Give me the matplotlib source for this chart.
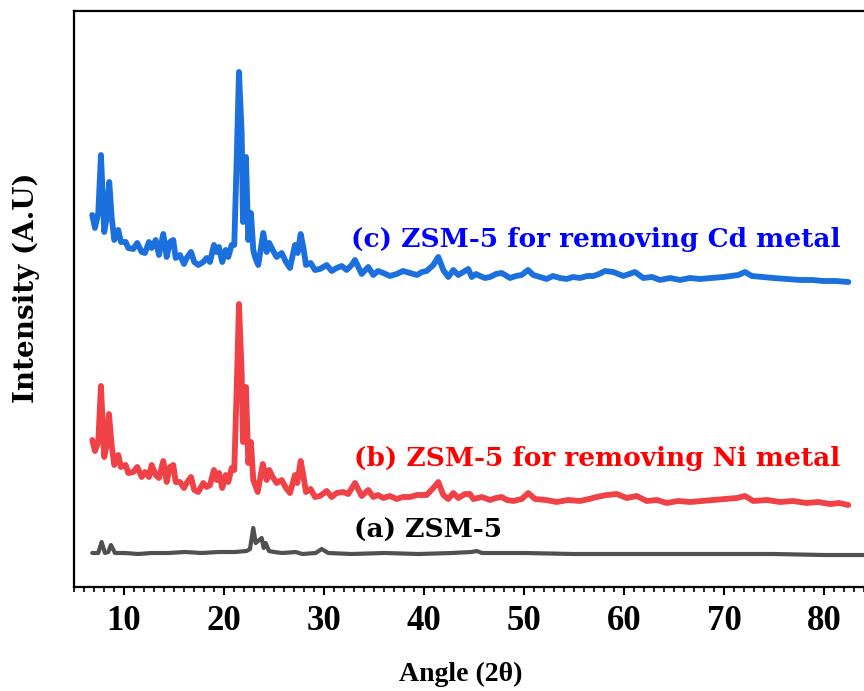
import matplotlib
matplotlib.use("Agg")
import matplotlib.pyplot as plt
from matplotlib.ticker import MultipleLocator

# XRD patterns, 2theta (deg) vs intensity (a.u., stacked)
two_theta_c = [6.83, 7.1, 7.43, 7.7, 8.03, 8.23, 8.53, 8.77, 9.03, 9.43, 9.7, 10.17, 10.43, 10.93,
               11.33, 11.77, 12.1, 12.5, 12.77, 13.17, 13.5, 13.93, 14.27, 14.6, 14.93, 15.17, 15.6,
               16.0, 16.27, 16.7, 17.03, 17.43, 17.93, 18.27, 18.6, 19.0, 19.27, 19.5, 19.83, 20.17,
               20.43, 20.77, 21.03, 21.27, 21.5, 21.77, 21.9, 22.2, 22.43, 22.7, 22.93, 23.1, 23.43,
               23.93, 24.27, 24.53, 24.87, 25.27, 25.77, 26.2, 26.6, 27.1, 27.37, 27.67, 27.93, 28.2,
               28.67, 29.1, 29.6, 30.27, 30.77, 31.27, 31.77, 32.27, 32.77, 33.1, 33.77, 34.43, 34.93,
               35.4, 35.93, 36.6, 37.27, 37.9, 38.6, 39.3, 39.8, 40.27, 40.93, 41.43, 41.93, 42.43,
               42.93, 43.43, 43.93, 44.43, 44.77, 45.2, 45.6, 46.1, 46.6, 47.2, 47.77, 48.6, 49.2,
               49.77, 50.4, 50.93, 51.6, 52.27, 52.9, 53.6, 54.27, 54.9, 55.6, 56.3, 56.93, 57.5,
               58.1, 58.93, 59.93, 60.5, 61.1, 61.93, 62.8, 63.6, 64.6, 65.6, 66.6, 67.6, 68.8,
               69.93, 70.7, 71.43, 72.1, 72.77, 73.8, 74.93, 76.2, 77.6, 78.8, 79.93, 81.2, 82.43]
int_c = [372, 359, 374, 432, 355, 367, 405, 370, 347, 357, 345, 345, 339, 338,
         344, 335, 334, 345, 339, 347, 332, 353, 330, 345, 347, 329, 332,
         323, 329, 335, 325, 322, 325, 329, 325, 342, 335, 340, 325, 337,
         330, 342, 342, 427, 515, 454, 365, 430, 347, 374, 337, 330, 322,
         354, 335, 344, 337, 330, 334, 325, 319, 342, 334, 353, 340, 322,
         324, 317, 318, 322, 316, 319, 321, 317, 322, 327, 313, 320, 312,
         316, 314, 311, 313, 316, 314, 312, 315, 316, 322, 330, 317, 310,
         317, 312, 315, 318, 310, 313, 311, 309, 310, 313, 314, 309, 311,
         312, 317, 312, 310, 308, 311, 309, 308, 310, 309, 311, 311, 313,
         316, 315, 311, 313, 315, 309, 310, 307, 309, 307, 309, 308, 309,
         310, 311, 312, 315, 311, 310, 309, 308, 307, 307, 306, 306, 305]

two_theta_b = [6.83, 7.1, 7.43, 7.7, 8.03, 8.23, 8.5, 8.77, 9.03, 9.43, 9.7, 10.17, 10.43, 10.93,
               11.33, 11.77, 12.1, 12.5, 12.77, 13.17, 13.5, 13.93, 14.27, 14.6, 14.93, 15.17, 15.6,
               16.0, 16.27, 16.7, 17.03, 17.43, 17.93, 18.27, 18.6, 19.0, 19.27, 19.5, 19.83, 20.17,
               20.43, 20.77, 21.03, 21.27, 21.5, 21.77, 21.9, 22.2, 22.43, 22.7, 22.93, 23.37, 23.88,
               24.27, 24.53, 24.87, 25.27, 25.77, 26.2, 26.6, 27.1, 27.33, 27.67, 27.93, 28.2, 28.67,
               29.1, 29.6, 30.27, 30.77, 31.27, 31.93, 32.43, 33.1, 33.77, 34.43, 34.93, 35.4, 35.93,
               36.6, 37.27, 37.9, 38.6, 39.3, 40.27, 40.93, 41.43, 41.93, 42.43, 42.93, 43.43, 44.1,
               44.6, 44.93, 45.8, 46.6, 47.2, 47.77, 48.3, 48.93, 49.77, 50.43, 51.1, 52.2, 53.27,
               54.4, 55.6, 56.5, 57.27, 58.27, 59.27, 60.27, 61.27, 62.27, 63.3, 64.27, 65.4, 66.6,
               67.8, 68.93, 70.1, 71.27, 72.1, 72.93, 74.3, 75.6, 76.9, 78.27, 79.4, 80.6, 81.5, 82.43]
int_b = [147, 136, 145, 201, 130, 140, 173, 142, 122, 132, 120, 122, 114, 115,
         120, 110, 115, 110, 122, 112, 109, 126, 105, 120, 122, 105, 105,
         99, 104, 110, 97, 95, 104, 100, 102, 117, 107, 114, 99, 112,
         105, 119, 117, 197, 283, 214, 145, 200, 124, 145, 107, 95, 123,
         107, 117, 110, 104, 107, 99, 94, 112, 104, 126, 112, 95, 98,
         90, 91, 96, 90, 94, 95, 93, 104, 91, 97, 90, 92, 89,
         91, 88, 90, 90, 92, 92, 99, 105, 92, 88, 94, 89, 93,
         93, 88, 90, 87, 89, 90, 87, 86, 88, 94, 88, 87, 85,
         87, 86, 88, 90, 92, 93, 89, 91, 86, 87, 84, 86, 85,
         86, 87, 88, 89, 91, 86, 87, 85, 86, 84, 85, 83, 84, 82]

two_theta_a = [6.83, 7.43, 7.77, 8.1, 8.43, 8.7, 9.1, 10.1, 11.43, 12.77, 14.43, 16.1, 17.77, 19.43,
               21.1, 22.27, 22.6, 22.93, 23.17, 23.77, 23.97, 24.17, 24.5, 25.0, 25.83, 27.17, 27.83,
               29.17, 29.77, 30.43, 32.77, 36.1, 39.43, 42.77, 44.77, 45.27, 45.8, 50.0, 55.0, 60.0,
               65.0, 70.0, 75.0, 80.0, 84.5]
int_a = [34, 34, 45, 34, 35, 42, 34, 34, 33, 34, 34, 35, 34, 35,
         35, 36, 38, 59, 44, 49, 39, 44, 36, 35, 34, 35, 33,
         34, 38, 34, 33, 34, 33, 34, 35, 36, 34, 34, 33, 33,
         33, 33, 33, 32, 32]

labels = ["(a) ZSM-5", "(b) ZSM-5 for removing Ni metal", "(c) ZSM-5 for removing Cd metal"]
line_colors = ["#505050", "#ef4146", "#1b70de"]
text_colors = ["black", "#ff0000", "#0000ff"]

fig = plt.figure(figsize=(8.64, 6.91), dpi=100)
ax = fig.add_axes([0.0856, 0.1505, 0.926, 0.8336])

line_kw = dict(solid_joinstyle="round", solid_capstyle="round")
ax.plot(two_theta_a, int_a, color=line_colors[0], lw=3.0, **line_kw)
ax.plot(two_theta_b, int_b, color=line_colors[1], lw=4.2, **line_kw)
ax.plot(two_theta_c, int_c, color=line_colors[2], lw=4.2, **line_kw)

txt = dict(family="DejaVu Serif", weight="bold", fontsize=19)
ax.text(33.0, 44, labels[0], color=text_colors[0], va="bottom", **txt)
ax.text(33.0, 116, labels[1], color=text_colors[1], va="bottom", **txt)
ax.text(32.7, 335, labels[2], color=text_colors[2], va="bottom", **txt)

ax.set_xlim(5, 85)
ax.set_ylim(0, 576)
ax.xaxis.set_major_locator(MultipleLocator(10))
ax.xaxis.set_minor_locator(MultipleLocator(1))
ax.set_yticks([])
ax.tick_params(axis="x", which="major", direction="out", length=6, width=1.5, pad=7)
ax.tick_params(axis="x", which="minor", direction="out", length=3.5, width=1.2)
for lab in ax.get_xticklabels():
    lab.set_family("Liberation Serif")
    lab.set_weight("bold")
    lab.set_fontsize(25)

for side in ["left", "bottom", "top"]:
    ax.spines[side].set_linewidth(1.6)
ax.spines["right"].set_visible(False)

ax.set_xlabel("Angle (2θ)", family="Liberation Serif", weight="bold", fontsize=20)
ax.xaxis.set_label_coords(0.484, -0.13)
ax.set_ylabel("Intensity (A.U)", family="DejaVu Serif", weight="bold", fontsize=20)
ax.yaxis.set_label_coords(-0.042, 0.52)

fig.savefig("out.png", dpi=100)
